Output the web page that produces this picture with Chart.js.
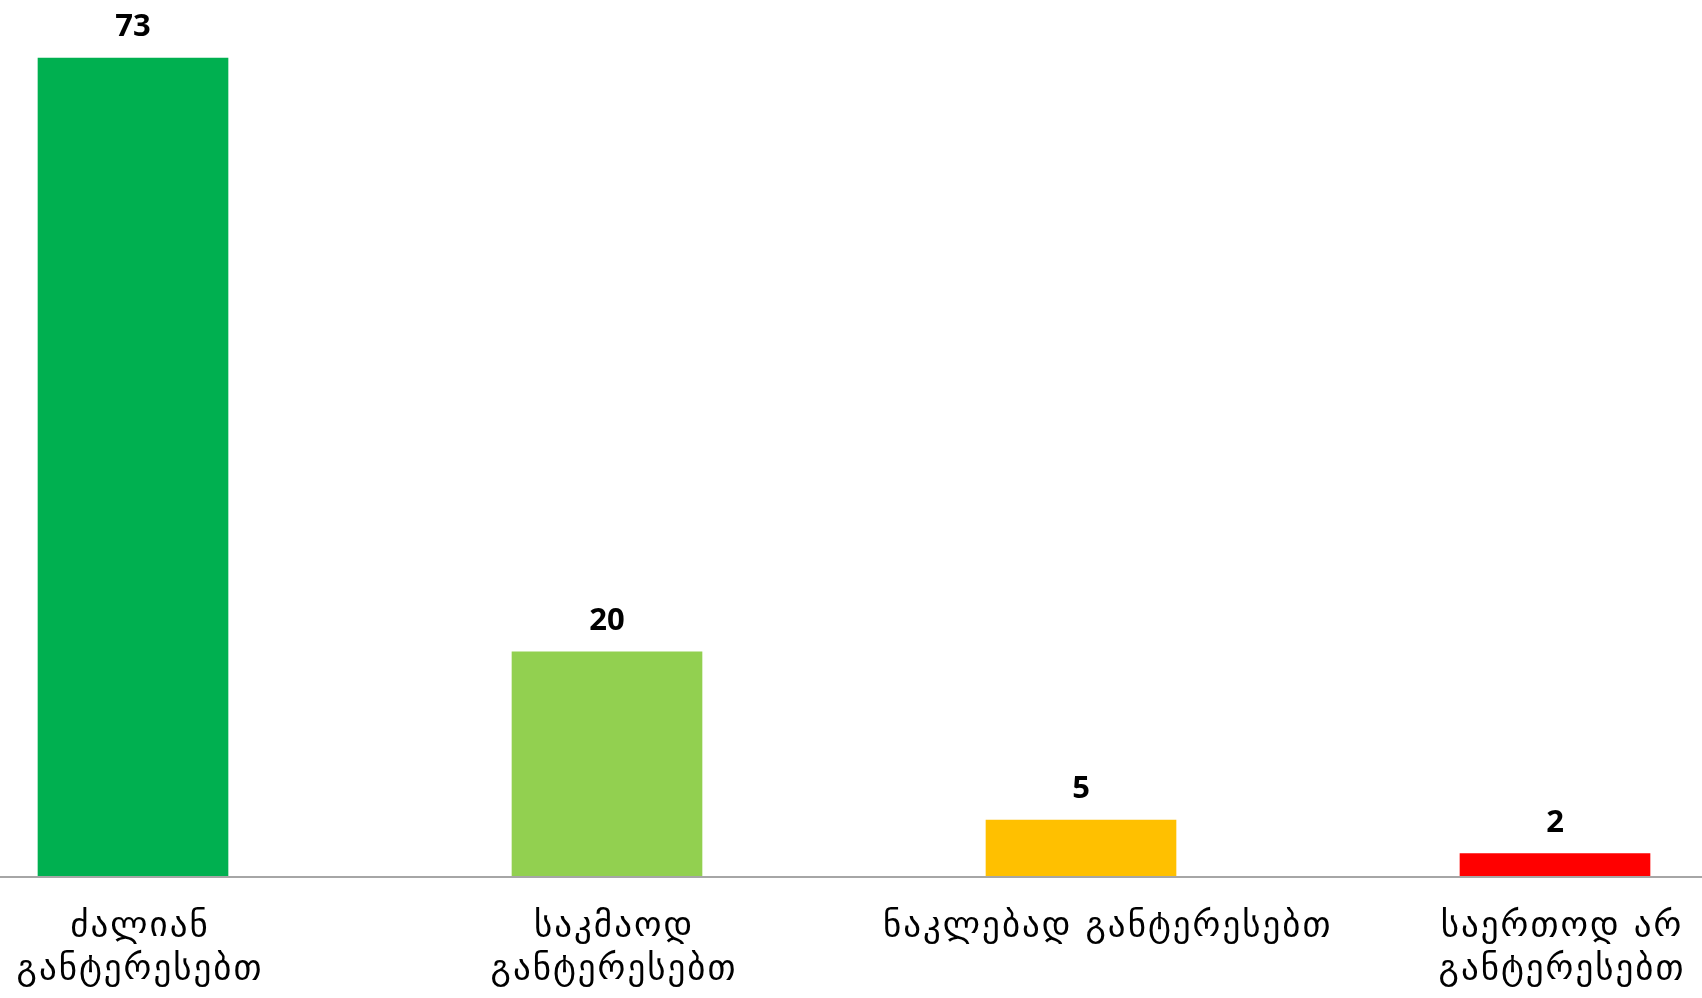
<!DOCTYPE html>
<html>
<head>
<meta charset="utf-8">
<script src="https://cdn.jsdelivr.net/npm/chart.js@4/dist/chart.umd.min.js"></script>
<style>
  html, body { margin: 0; padding: 0; background: #fff; }
  .wrap { width: 1702px; height: 998px; position: relative; }
</style>
</head>
<body>
<div class="wrap"><canvas id="interestChart"></canvas></div>
<script>
const categories = [
  ["ძალიან", "განტერესებთ"],
  ["საკმაოდ", "განტერესებთ"],
  "   ნაკლებად განტერესებთ",
  ["საერთოდ არ", "განტერესებთ"]
];
const values = [73, 20, 5, 2];
const barColors = ["#00B050", "#92D050", "#FFC000", "#FF0000"];

// wider letter spacing for the axis labels only
const tickSpacing = {
  id: "tickSpacing",
  beforeDraw(chart) { chart.ctx.letterSpacing = "2px"; },
  beforeDatasetsDraw(chart) { chart.ctx.letterSpacing = "0px"; }
};

// value labels above bars + baseline across the whole width
const barLabels = {
  id: "barLabels",
  afterDatasetsDraw(chart) {
    const { ctx } = chart;
    const meta = chart.getDatasetMeta(0);
    ctx.save();
    ctx.letterSpacing = "0px";
    ctx.font = "bold 31px 'Open Sans', sans-serif";
    ctx.fillStyle = "#000";
    ctx.textAlign = "center";
    ctx.textBaseline = "alphabetic";
    meta.data.forEach((bar, i) => {
      ctx.fillText(values[i], bar.x, bar.y - 22);
    });
    const y0 = chart.scales.y.getPixelForValue(0);
    ctx.strokeStyle = "#a6a6a6";
    ctx.lineWidth = 2;
    ctx.beginPath();
    ctx.moveTo(0, y0 + 1);
    ctx.lineTo(chart.width, y0 + 1);
    ctx.stroke();
    ctx.restore();
  }
};

const ctx = document.getElementById("interestChart");
new Chart(ctx, {
  type: "bar",
  data: {
    labels: categories,
    datasets: [{
      data: values,
      backgroundColor: barColors,
      barThickness: 190,
      clip: false
    }]
  },
  options: {
    responsive: true,
    maintainAspectRatio: false,
    animation: false,
    layout: { padding: { left: 133, right: 147, top: 2, bottom: 0 } },
    scales: {
      x: {
        offset: false,
        grid: { display: false, drawTicks: false },
        border: { display: false },
        ticks: {
          color: "#000",
          padding: 29,
          labelOffset: 7,
          maxRotation: 0,
          autoSkip: false,
          font: { family: "'DejaVu Sans', sans-serif", size: 35, lineHeight: 1.23 }
        },
        afterFit: (scale) => {
          scale.height = 122;
          scale.paddingLeft = 0;
          scale.paddingRight = 0;
        }
      },
      y: {
        display: false,
        min: 0,
        max: 78
      }
    },
    plugins: {
      legend: { display: false },
      tooltip: { enabled: false }
    }
  },
  plugins: [tickSpacing, barLabels]
});
</script>
</body>
</html>
